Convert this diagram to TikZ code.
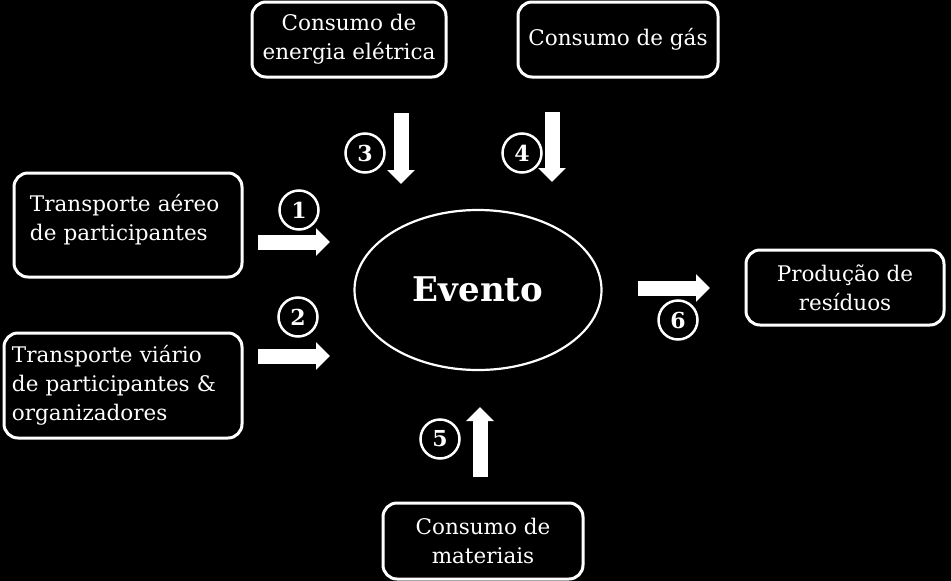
\documentclass[tikz,border=0pt]{standalone}
\usepackage{fontspec}
\setmainfont{DejaVu Serif}
\usetikzlibrary{arrows.meta,shapes.geometric}
\begin{document}
\begin{tikzpicture}[x=1pt,y=-1pt,
  box/.style={draw=white, line width=3pt, rounded corners=14pt, text=white,
    align=center, font=\fontsize{21.5}{29}\selectfont, inner sep=0pt},
  lbox/.style={box, align=left},
  lbl/.style={text=white, align=left, font=\fontsize{21.5}{29}\selectfont, inner sep=0pt},
  num/.style={circle, draw=white, line width=2.5pt, minimum size=39pt, inner sep=0pt,
    text=white, font=\bfseries\fontsize{22}{22}\selectfont},
  blockarrow/.style={white, line width=15pt, -{Triangle[length=14pt,width=27pt]}}]
\useasboundingbox[fill=black] (0,0) rectangle (951,581);

% boxes
\node[box, minimum width=194pt, minimum height=75pt] (elec) at (349,39.5) {Consumo de\\energia elétrica};
\node[box, minimum width=200pt, minimum height=75pt] (gas) at (618,39.5) {Consumo de gás};
\node[box, minimum width=228pt, minimum height=104pt,
  label={[lbl, text width=196pt, yshift=5pt]center:{Transporte aéreo\\de participantes}}] (aereo) at (128,225) {};
\node[lbox, minimum width=238pt, minimum height=105pt, text width=222pt] (viario) at (123,385.5) {Transporte viário\\de participantes \&\\organizadores};
\node[box, minimum width=198pt, minimum height=75pt] (resid) at (845,287.5) {Produção de\\resíduos};
\node[box, minimum width=200pt, minimum height=76pt] (mat) at (483,541) {Consumo de\\materiais};

% event
\node[ellipse, draw=white, line width=2.2pt, minimum width=247pt, minimum height=160pt,
  inner sep=0pt, text=white, font=\bfseries\fontsize{34}{34}\selectfont] (evento) at (478,290) {\raisebox{2pt}{Evento}};

% arrows
\coordinate (a1s) at (258,242); \coordinate (a1e) at (330,242);
\coordinate (a2s) at (258,356); \coordinate (a2e) at (330,356);
\coordinate (a3s) at (401,113); \coordinate (a3e) at (401,184);
\coordinate (a4s) at (552,112); \coordinate (a4e) at (552,182);
\coordinate (a5s) at (480,477); \coordinate (a5e) at (480,407);
\coordinate (a6s) at (638,288); \coordinate (a6e) at (710,288);
\draw[blockarrow] (a1s) -- (a1e);
\draw[blockarrow] (a2s) -- (a2e);
\draw[blockarrow] (a3s) -- (a3e);
\draw[blockarrow] (a4s) -- (a4e);
\draw[blockarrow] (a5s) -- (a5e);
\draw[blockarrow] (a6s) -- (a6e);

% numbers
\node[num] (n1) at (299,210) {1};
\node[num] (n2) at (298,317) {2};
\node[num] (n3) at (365,153) {3};
\node[num] (n4) at (522,153) {4};
\node[num] (n5) at (440,439) {5};
\node[num] (n6) at (678,320) {6};
\end{tikzpicture}
\end{document}
